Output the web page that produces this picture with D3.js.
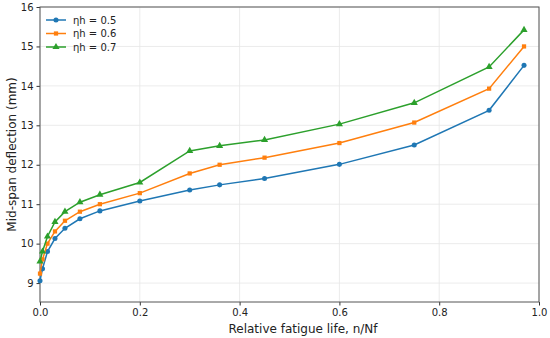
<!DOCTYPE html>
<html>
<head>
<meta charset="utf-8">
<script src="https://cdn.jsdelivr.net/npm/d3@7"></script>
<style>
  body { margin: 0; background: #fff; }
  svg { display: block; font-family: "DejaVu Sans", sans-serif; }
</style>
</head>
<body>
<svg id="chart" width="550" height="338"></svg>
<script>
const life = [0, 0.005, 0.015, 0.03, 0.05, 0.08, 0.12, 0.2, 0.3, 0.36, 0.45, 0.6, 0.75, 0.9, 0.97]
const eta05 = [9.06, 9.36, 9.8, 10.13, 10.39, 10.63, 10.83, 11.08, 11.36, 11.49, 11.65, 12.01, 12.5, 13.38, 14.52]
const eta06 = [9.24, 9.6, 10.0, 10.31, 10.58, 10.81, 11.0, 11.28, 11.78, 12.0, 12.18, 12.55, 13.07, 13.93, 15.0]
const eta07 = [9.55, 9.8, 10.18, 10.55, 10.81, 11.05, 11.24, 11.55, 12.35, 12.48, 12.63, 13.03, 13.57, 14.48, 15.42]
const seriesNames = ['ηh = 0.5', 'ηh = 0.6', 'ηh = 0.7']
const xTicks = [0, 0.2, 0.4, 0.6, 0.8, 1.0]
const yTicks = [9, 10, 11, 12, 13, 14, 15, 16]

const colors = ['#1f77b4', '#ff7f0e', '#2ca02c']
const symbols = [d3.symbolCircle, d3.symbolSquare, d3.symbolTriangle]
const symSize = [20, 18, 22]

const margin = { top: 7, right: 11, bottom: 36, left: 40 }
const width = 550, height = 338
const w = width - margin.left - margin.right
const h = height - margin.top - margin.bottom

const svg = d3.select('#chart')
const g = svg.append('g').attr('transform', `translate(${margin.left},${margin.top})`)

const x = d3.scaleLinear().domain([0, 1]).range([0, w])
const y = d3.scaleLinear().domain([8.52, 16]).range([h, 0])

// grid
g.append('g').selectAll('line').data(xTicks).enter().append('line')
  .attr('x1', d => x(d)).attr('x2', d => x(d)).attr('y1', 0).attr('y2', h)
  .attr('stroke', '#e6e6e6').attr('stroke-width', 0.8)
g.append('g').selectAll('line').data(yTicks).enter().append('line')
  .attr('y1', d => y(d)).attr('y2', d => y(d)).attr('x1', 0).attr('x2', w)
  .attr('stroke', '#e6e6e6').attr('stroke-width', 0.8)

// axes
const xAxis = g.append('g').attr('transform', `translate(0,${h})`)
  .call(d3.axisBottom(x).tickValues(xTicks).tickFormat(d3.format('.1f')).tickSize(3.5).tickPadding(3))
const yAxis = g.append('g')
  .call(d3.axisLeft(y).tickValues(yTicks).tickFormat(d3.format('d')).tickSize(3.5).tickPadding(3))
;[xAxis, yAxis].forEach(a => {
  a.select('.domain').remove()
  a.selectAll('line').attr('stroke', '#333')
  a.selectAll('text').attr('fill', '#222').style('font-size', '10px').style('font-family', '"DejaVu Sans", sans-serif')
})

// frame
g.append('rect').attr('width', w).attr('height', h)
  .attr('fill', 'none').attr('stroke', '#555').attr('stroke-width', 1)

const data = [eta05, eta06, eta07]
const line = d3.line().x((d, i) => x(life[i])).y(d => y(d))

data.forEach((vals, k) => {
  g.append('path').datum(vals)
    .attr('d', line)
    .attr('fill', 'none')
    .attr('stroke', colors[k])
    .attr('stroke-width', 1.5)
  g.append('g').selectAll('path').data(vals).enter().append('path')
    .attr('transform', (d, i) => `translate(${x(life[i])},${y(d)})`)
    .attr('d', d3.symbol().type(symbols[k]).size(symSize[k]))
    .attr('fill', colors[k])
})

// legend
const legend = g.append('g').attr('transform', 'translate(6,13)')
seriesNames.forEach((name, k) => {
  const row = legend.append('g').attr('transform', `translate(0,${k * 13.5})`)
  row.append('line').attr('x1', 0).attr('x2', 20).attr('stroke', colors[k]).attr('stroke-width', 1.5)
  row.append('path').attr('transform', 'translate(10,0)')
    .attr('d', d3.symbol().type(symbols[k]).size(symSize[k])).attr('fill', colors[k])
  row.append('text').attr('x', 27).attr('y', 3.5).text(name)
    .style('font-size', '10px').attr('fill', '#222')
})

// axis labels
svg.append('text')
  .attr('x', 303).attr('y', 333)
  .attr('text-anchor', 'middle')
  .style('font-size', '12px').attr('fill', '#222')
  .text('Relative fatigue life, n/Nf')
svg.append('text')
  .attr('transform', `translate(16,${margin.top + h / 2}) rotate(-90)`)
  .attr('text-anchor', 'middle')
  .style('font-size', '12px').attr('fill', '#222')
  .text('Mid-span deflection (mm)')
</script>
</body>
</html>
